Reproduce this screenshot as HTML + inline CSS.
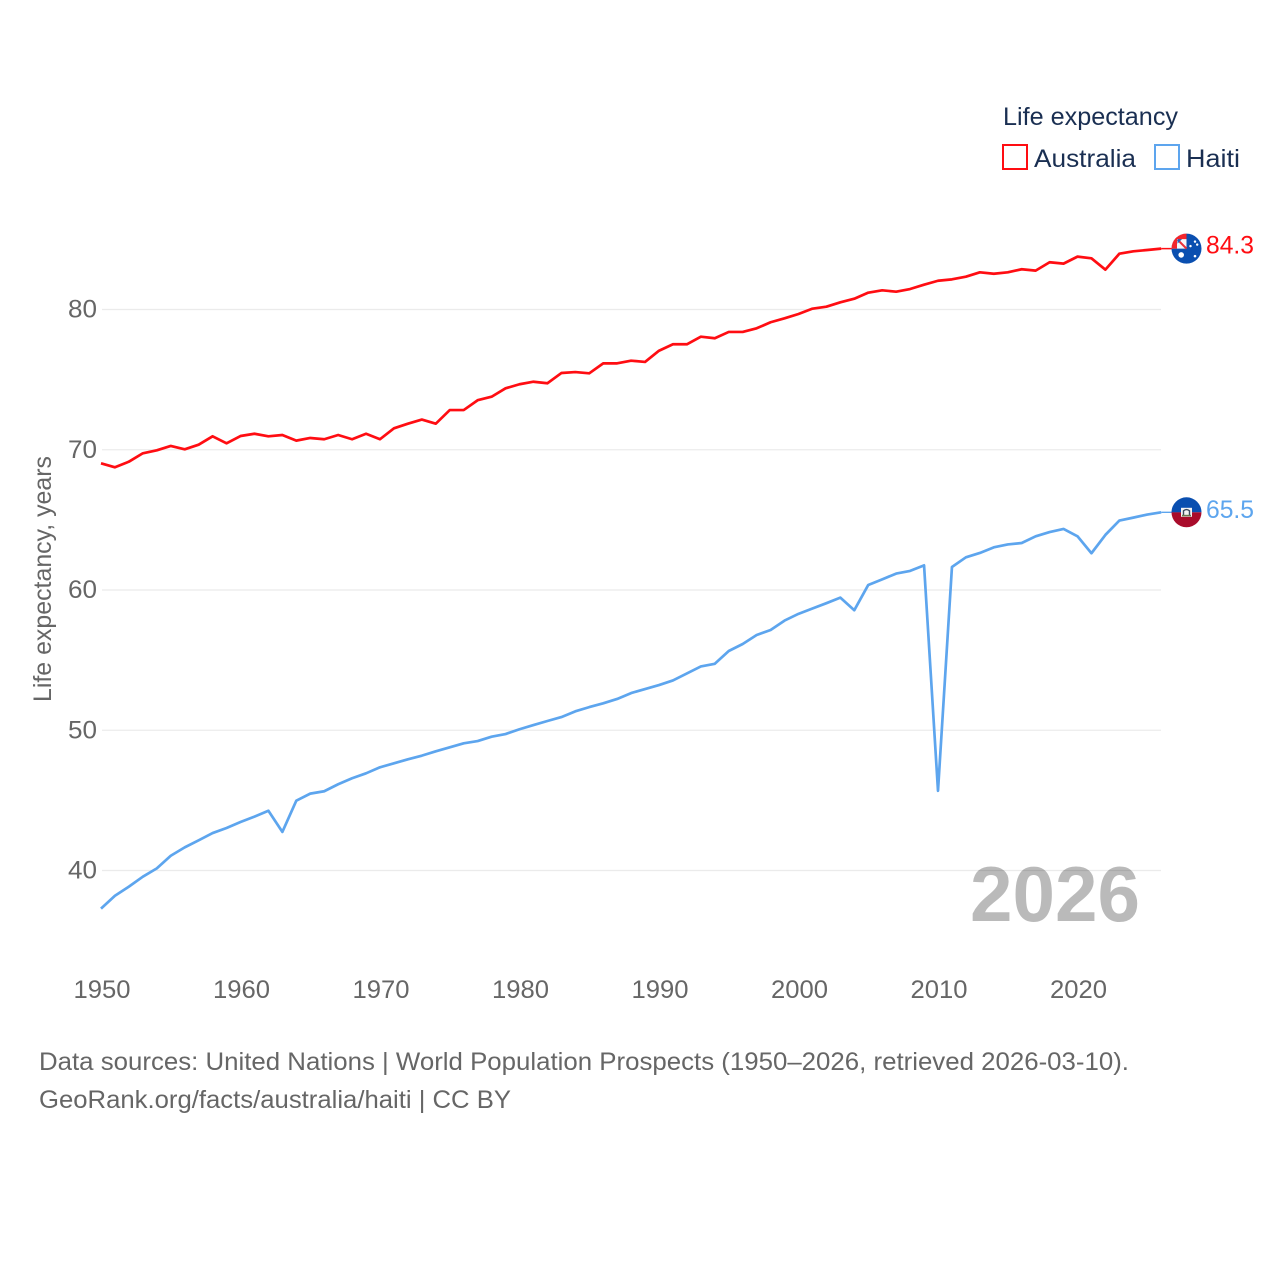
<!DOCTYPE html>
<html lang="en">
<head>
<meta charset="utf-8">
<title>Life expectancy: Australia and Haiti</title>
<style>
html,body{margin:0;padding:0;background:#fff;}
#chart{display:block;width:1280px;height:1280px;font-family:"Liberation Sans",sans-serif;}
</style>
</head>
<body>
<svg id="chart" xmlns="http://www.w3.org/2000/svg" width="1280" height="1280" viewBox="0 0 1280 1280">
  <defs>
    <clipPath id="flag-clip"><circle cx="0" cy="0" r="15"/></clipPath>
  </defs>
  <g id="grid"></g>
  <g id="y-ticks"></g>
  <g id="x-ticks"></g>
  <text transform="translate(51 579) rotate(-90)" text-anchor="middle" font-size="25" fill="#666" textLength="246" lengthAdjust="spacingAndGlyphs">Life expectancy, years</text>

  <text x="970" y="921" font-size="78" font-weight="700" fill="#000" fill-opacity="0.27" textLength="170" lengthAdjust="spacingAndGlyphs">2026</text>

  <g id="series"></g>

  <g id="flag-australia">
    <g clip-path="url(#flag-clip)">
      <rect x="-16" y="-16" width="32" height="32" fill="#0a4fb0"/>
      <rect x="-16" y="-16" width="16" height="16" fill="#f4f6fa"/>
      <path d="M-9,-9 L0,0" stroke="#e8323a" stroke-width="2"/>
      <path d="M-4,-10 L-9,-10 L-9,-5 Z" fill="#2a5fb8"/>
      <path d="M-16,-16 H0 V-9.5 H-16 Z" fill="#f3252c"/>
      <path d="M-16,-16 H-9.5 V0 H-16 Z" fill="#f3252c"/>
    </g>
    <g fill="#fff">
      <circle cx="-5.3" cy="6.3" r="2.8"/>
      <circle cx="8.5" cy="-7" r="1.2"/>
      <circle cx="10.7" cy="-4" r="1.2"/>
      <circle cx="4" cy="-2.5" r="1.2"/>
      <circle cx="8.5" cy="7.5" r="1.3"/>
    </g>
  </g>
  <g id="flag-haiti">
    <g clip-path="url(#flag-clip)">
      <rect x="-16" y="-16" width="32" height="16" fill="#0a4fb0"/>
      <rect x="-16" y="0" width="32" height="16" fill="#a90c2b"/>
      <rect x="-5.5" y="-4.5" width="11" height="9" fill="#f4f4f4"/>
      <path d="M-3,3 V-1.5 Q0,-4 3,-1.5 V3" fill="none" stroke="#3b4a5e" stroke-width="1.4"/>
      <rect x="-4.5" y="2.5" width="9" height="1.5" fill="#6b7a50"/>
    </g>
  </g>
  <text id="label-australia" x="1206" y="254" font-size="25" fill="#ff0d12" textLength="48" lengthAdjust="spacingAndGlyphs"></text>
  <text id="label-haiti" x="1206" y="518" font-size="25" fill="#5da5ee" textLength="48" lengthAdjust="spacingAndGlyphs"></text>

  <g>
    <text x="1003" y="125" font-size="25" fill="#1a2f52" textLength="175" lengthAdjust="spacingAndGlyphs">Life expectancy</text>
    <g>
      <rect x="1003" y="145" width="24" height="24" fill="#fff" stroke="#ff0d12" stroke-width="2"/>
      <text x="1034" y="167" font-size="25" fill="#1a2f52" textLength="102" lengthAdjust="spacingAndGlyphs">Australia</text>
    </g>
    <g>
      <rect x="1155" y="145" width="24" height="24" fill="#fff" stroke="#5da5ee" stroke-width="2"/>
      <text x="1186" y="167" font-size="25" fill="#1a2f52" textLength="54" lengthAdjust="spacingAndGlyphs">Haiti</text>
    </g>
  </g>

  <text x="39" y="1070" font-size="25" fill="#666" textLength="1090" lengthAdjust="spacingAndGlyphs">Data sources: United Nations | World Population Prospects (1950–2026, retrieved 2026-03-10).</text>
  <text x="39" y="1108" font-size="25" fill="#666" textLength="472" lengthAdjust="spacingAndGlyphs">GeoRank.org/facts/australia/haiti | CC BY</text>
</svg>
<script>
const firstYear = 1950;
const yTickValues = [40, 50, 60, 70, 80];
const xTickValues = [1950, 1960, 1970, 1980, 1990, 2000, 2010, 2020];
const australiaValues = [
  69.03, 68.75, 69.15, 69.75, 69.96, 70.27, 70.03, 70.36, 70.96, 70.46,
  70.98, 71.14, 70.96, 71.05, 70.65, 70.84, 70.75, 71.05, 70.75, 71.14,
  70.75, 71.53, 71.86, 72.15, 71.86, 72.83, 72.83, 73.53, 73.78, 74.38,
  74.67, 74.85, 74.74, 75.47, 75.54, 75.45, 76.16, 76.16, 76.35, 76.26,
  77.06, 77.52, 77.52, 78.06, 77.95, 78.40, 78.40, 78.66, 79.09, 79.37,
  79.68, 80.06, 80.20, 80.51, 80.77, 81.20, 81.37, 81.27, 81.46, 81.77,
  82.05, 82.15, 82.34, 82.65, 82.55, 82.65, 82.87, 82.77, 83.37, 83.27,
  83.77, 83.65, 82.84, 83.98, 84.15, 84.24, 84.34
];
const haitiValues = [
  37.28, 38.20, 38.85, 39.56, 40.15, 41.05, 41.65, 42.15, 42.67, 43.03,
  43.46, 43.84, 44.26, 42.75, 44.98, 45.48, 45.65, 46.15, 46.58, 46.93,
  47.36, 47.64, 47.93, 48.19, 48.50, 48.78, 49.07, 49.23, 49.54, 49.73,
  50.07, 50.37, 50.66, 50.94, 51.35, 51.65, 51.92, 52.23, 52.65, 52.94,
  53.22, 53.55, 54.05, 54.55, 54.74, 55.65, 56.15, 56.79, 57.15, 57.82,
  58.30, 58.68, 59.06, 59.46, 58.56, 60.36, 60.76, 61.17, 61.36, 61.76,
  45.68, 61.64, 62.33, 62.64, 63.04, 63.25, 63.35, 63.83, 64.13, 64.35,
  63.83, 62.62, 63.93, 64.95, 65.16, 65.38, 65.54
];

const SVG_NS = 'http://www.w3.org/2000/svg';
function xScale(year) { return 101 + (year - 1950) * 13.95; }
function yScale(value) { return 870.5 - (value - 40) * 14.025; }
function make(tag, attrs) {
  const el = document.createElementNS(SVG_NS, tag);
  for (const k in attrs) el.setAttribute(k, attrs[k]);
  return el;
}
const gridGroup = document.getElementById('grid');
const yGroup = document.getElementById('y-ticks');
const xGroup = document.getElementById('x-ticks');
const seriesGroup = document.getElementById('series');

yTickValues.forEach(function (v) {
  const line = make('line', { x1: 102, x2: 1161, y1: yScale(v), y2: yScale(v), stroke: '#ebebeb', 'stroke-width': 1.2 });
  
  
  gridGroup.appendChild(line);
  const label = make('text', { x: 68, y: yScale(v) + 8, 'font-size': 25, fill: '#666', textLength: 29, lengthAdjust: 'spacingAndGlyphs' });
  
  
  label.textContent = String(v);
  yGroup.appendChild(label);
});

xTickValues.forEach(function (year) {
  const label = make('text', { x: xScale(year) - 27.5, y: 998, 'font-size': 25, fill: '#666', textLength: 57, lengthAdjust: 'spacingAndGlyphs' });
  
  
  label.textContent = String(year);
  xGroup.appendChild(label);
});

function pathFor(values) {
  return values.map(function (v, i) {
    return (i ? 'L' : 'M') + xScale(firstYear + i).toFixed(2) + ' ' + yScale(v).toFixed(2);
  }).join(' ');
}
function lastOf(values) { return values[values.length - 1]; }

const endX = xScale(firstYear + australiaValues.length - 1);

const australiaConnector = make('line', { x1: endX, x2: 1186, y1: yScale(lastOf(australiaValues)), y2: yScale(lastOf(australiaValues)), stroke: '#ff0d12', 'stroke-width': 1.4 });


seriesGroup.appendChild(australiaConnector);

const haitiConnector = make('line', { x1: endX, x2: 1186, y1: yScale(lastOf(haitiValues)), y2: yScale(lastOf(haitiValues)), stroke: '#5da5ee', 'stroke-width': 1.4 });


seriesGroup.appendChild(haitiConnector);

const australiaLine = make('path', { d: pathFor(australiaValues), fill: 'none', stroke: '#ff0d12', 'stroke-width': 2.7, 'stroke-linejoin': 'round' });


seriesGroup.appendChild(australiaLine);

const haitiLine = make('path', { d: pathFor(haitiValues), fill: 'none', stroke: '#5da5ee', 'stroke-width': 2.7, 'stroke-linejoin': 'round' });


seriesGroup.appendChild(haitiLine);

const aY = yScale(lastOf(australiaValues));
const hY = yScale(lastOf(haitiValues));
document.getElementById('flag-australia').setAttribute('transform', 'translate(1186.5 ' + aY.toFixed(2) + ')');
document.getElementById('flag-haiti').setAttribute('transform', 'translate(1186.5 ' + hY.toFixed(2) + ')');
const aLabel = document.getElementById('label-australia');
aLabel.textContent = lastOf(australiaValues).toFixed(1);
aLabel.setAttribute('y', (aY + 5).toFixed(2));
const hLabel = document.getElementById('label-haiti');
hLabel.textContent = lastOf(haitiValues).toFixed(1);
hLabel.setAttribute('y', (hY + 5.5).toFixed(2));
</script>
</body>
</html>
